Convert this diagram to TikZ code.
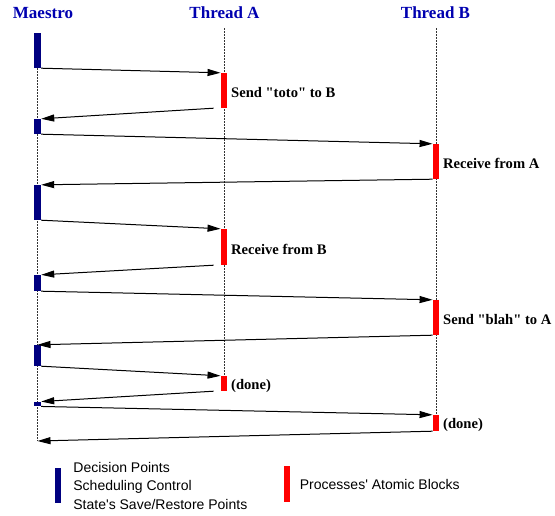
\documentclass[tikz,border=0pt]{standalone}
\usepackage{fontspec}
\setmainfont{Liberation Serif}
\newfontfamily\legendfont{Liberation Sans}
\usetikzlibrary{arrows.meta,positioning}
\definecolor{maestroBlue}{HTML}{000080}
\definecolor{headBlue}{HTML}{0000B0}
\definecolor{blockRed}{HTML}{FF0000}
\definecolor{lifeGray}{HTML}{333333}

\begin{document}
\begin{tikzpicture}[x=1pt,y=-1pt,>={Triangle[length=13pt,width=7pt]},line join=round]
\useasboundingbox[fill=white] (0,0) rectangle (555,515);
\tikzset{mbar/.style={rectangle,fill=maestroBlue,minimum width=7pt,inner sep=0pt},pbar/.style={rectangle,fill=blockRed,minimum width=6.5pt,inner sep=0pt},head/.style={text=headBlue,font=\fontsize{17}{20}\selectfont\bfseries},lbl/.style={anchor=west,yshift=-2pt,inner sep=3.5pt,font=\fontsize{14.6}{18}\selectfont\bfseries},life/.style={draw=lifeGray,line width=0.9pt,dash pattern=on 2pt off 1pt},msg/.style={draw=black,line width=1pt,->}}
% headers
\node[head] (hM) at (43,13) {Maestro}; \node[head] (hA) at (224.5,13) {Thread A}; \node[head] (hB) at (435.5,13) {Thread B};
\coordinate (tA) at (224,28); \coordinate (tB) at (436,28); \coordinate (mEnd) at (37.5,441);
% lifelines
\draw[life] (37.5,50) -- (mEnd); \draw[life] (tA) -- (224,376); \draw[life] (tB) -- (436,415);
% maestro decision points
\node[mbar,minimum height=35pt] (m1) at (37.5,50.5) {}; \node[mbar,minimum height=15pt] (m2) at (37.5,126.5) {}; \node[mbar,minimum height=35pt] (m3) at (37.5,202.5) {};
\node[mbar,minimum height=16pt] (m4) at (37.5,283) {}; \node[mbar,minimum height=21pt] (m5) at (37.5,355.5) {}; \node[mbar,minimum height=4.5pt] (m6) at (37.5,404) {};
% atomic blocks
\node[pbar,minimum height=35pt] (a1) at (224,90.5) {}; \node[pbar,minimum height=36pt] (a2) at (224,247) {}; \node[pbar,minimum height=15pt] (a3) at (224,383.5) {};
\node[pbar,minimum height=35pt] (b1) at (436,161.5) {}; \node[pbar,minimum height=35pt] (b2) at (436,317.5) {}; \node[pbar,minimum height=16pt] (b3) at (436,423) {};
\node[lbl] (la1) at (a1.east) {Send \textquotedbl toto\textquotedbl{} to B}; \node[lbl] (la2) at (a2.east) {Receive from B}; \node[lbl] (la3) at (a3.east) {(done)};
\node[lbl] (lb1) at (b1.east) {Receive from A}; \node[lbl] (lb2) at (b2.east) {Send \textquotedbl blah\textquotedbl{} to A}; \node[lbl] (lb3) at (b3.east) {(done)};
% messages
\draw[msg] (m1.south east) -- (a1.north west); \draw[msg] ([xshift=-7pt]a1.south west) -- (m2.north east);
\draw[msg] (m2.south east) -- (b1.north west); \draw[msg] (b1.south west) -- (m3.north east);
\draw[msg] (m3.south east) -- (a2.north west); \draw[msg] ([xshift=-7pt]a2.south west) -- (m4.north east);
\draw[msg] (m4.south east) -- (b2.north west); \draw[msg] (b2.south west) -- (m5.north);
\draw[msg] (m5.south east) -- (a3.north west); \draw[msg] ([xshift=-7pt]a3.south west) -- (m6.north east);
\draw[msg] (m6.south east) -- (b3.north west); \draw[msg] (b3.south west) -- (mEnd);
% legend
\node[mbar,minimum width=6pt,minimum height=35pt] (legM) at (58,485.5) {};
\node[anchor=west,align=left,font=\legendfont\fontsize{14}{18.5}\selectfont,inner sep=0pt] (legMtxt) at ([xshift=12pt]legM.east) {Decision Points\\Scheduling Control\\State\textquotesingle s Save/Restore Points};
\node[pbar,minimum width=6pt,minimum height=36pt] (legP) at (286.5,484) {};
\node[anchor=west,font=\legendfont\fontsize{14}{18.5}\selectfont,inner sep=0pt] (legPtxt) at ([xshift=10pt]legP.east) {Processes\textquotesingle{} Atomic Blocks};
\end{tikzpicture}
\end{document}
